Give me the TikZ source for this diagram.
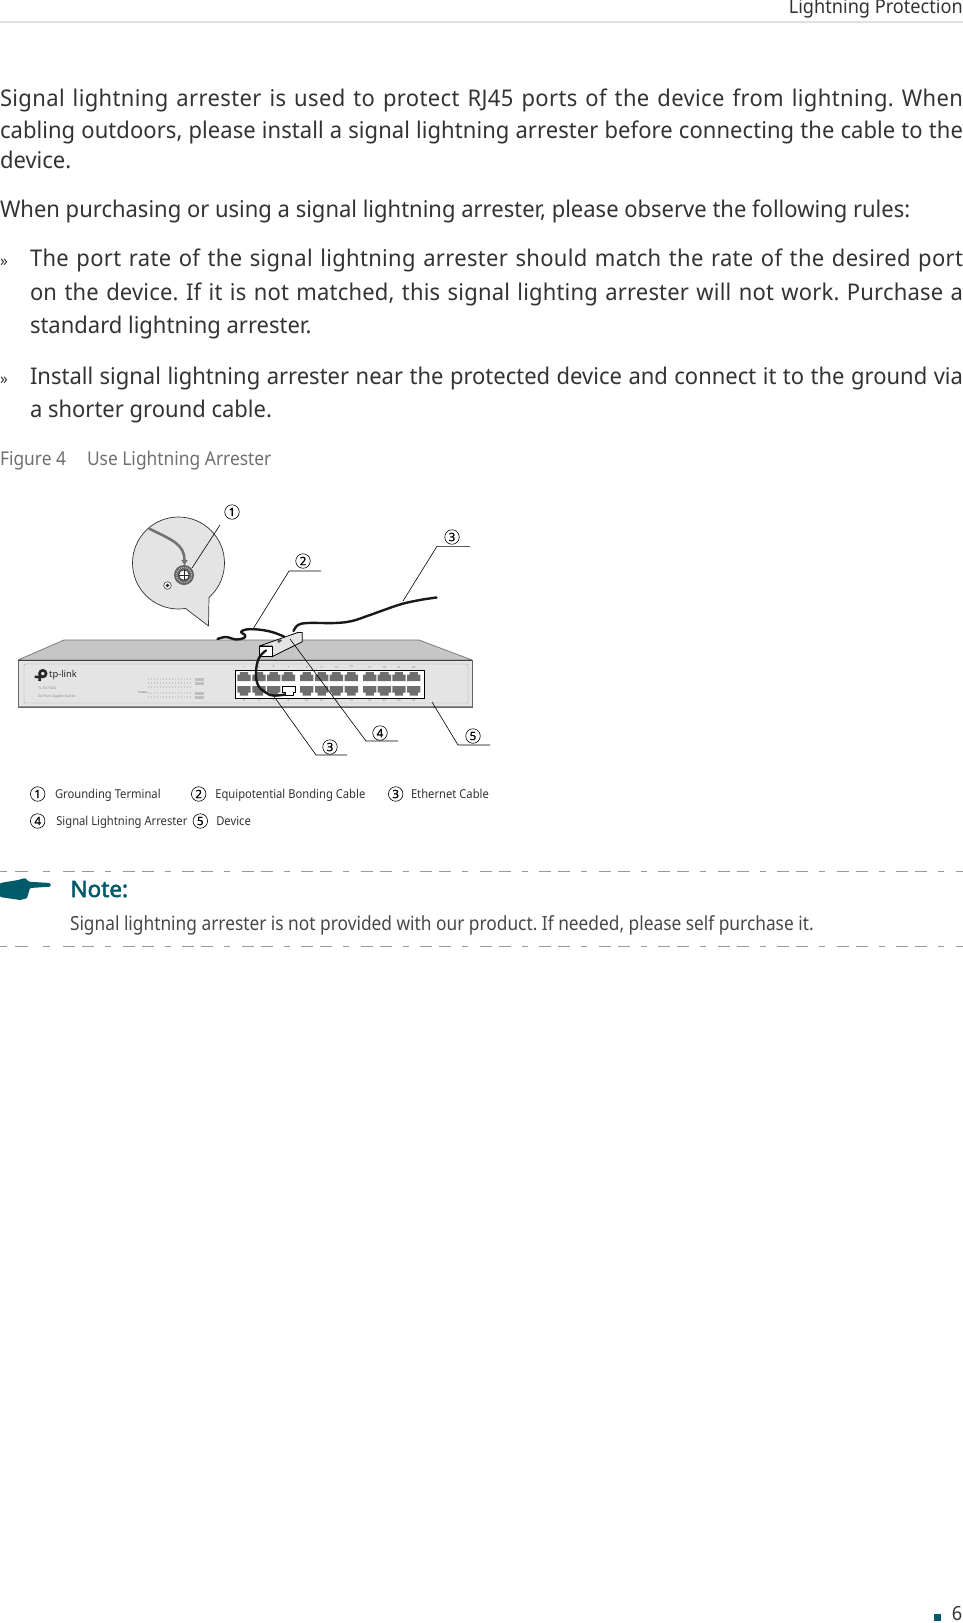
\documentclass[tikz,border=0pt]{standalone}
\usepackage{fontspec}
\usetikzlibrary{arrows.meta}
\setmainfont{Noto Sans}
\newfontfamily\bodyf[FakeStretch=0.956]{Noto Sans}
\newfontfamily\hdrf[FakeStretch=0.93]{Noto Sans}
\newfontfamily\capf[FakeStretch=0.915]{Noto Sans}
\newfontfamily\legf[FakeStretch=0.912]{Noto Sans}
\newfontfamily\notef[FakeStretch=0.888]{Noto Sans}
\newfontfamily\notebf[FakeBold=2.2,FakeStretch=1.0]{Noto Sans}
\newfontfamily\numf[FakeBold=1]{Noto Sans}
\frenchspacing
\definecolor{bodyc}{HTML}{333333}
\definecolor{capc}{HTML}{707070}
\definecolor{notec}{HTML}{484848}
\definecolor{teal}{HTML}{005A68}
\definecolor{dashc}{HTML}{999999}
\definecolor{topc}{HTML}{C6C6C6}
\definecolor{frontc}{HTML}{E4E4E4}
\definecolor{portc}{HTML}{6E6E6E}
\newcommand{\jl}[6]{\node[txt,text=#6] (#1) at (#2,#3) {\hbox to #4pt{#5}};}
\newcommand{\bodysize}{\fontsize{23}{26}\bodyf}
\tikzset{
 txt/.style={anchor=base west,inner sep=0pt,outer sep=0pt},
 numc/.style={circle,draw=black,line width=0.6pt,minimum size=14.5pt,inner sep=0pt,font=\fontsize{11.5}{12}\numf},
 lead/.style={draw=black,line width=0.6pt},
 leg/.style={txt,text=bodyc,font=\fontsize{12.3}{14}\legf},
 cable/.style={draw=black!90,line width=2.4pt,line cap=round,line join=round},
 dashl/.style={draw=dashc,line width=1.5pt},
 dashp/.style={dashl,dash pattern=on 12pt off 7pt on 12pt off 11pt on 6pt off 11.5pt},
 tiny/.style={text=black!55,inner sep=0pt,font=\fontsize{2.8}{3}\selectfont}
}
\begin{document}
\begin{tikzpicture}[x=1pt,y=-1pt]
\useasboundingbox (0,0) rectangle (963,1623);
\fill[white] (0,0) rectangle (963,1623);
% header
\node[anchor=base east,inner sep=0pt,text=bodyc,font=\fontsize{19.5}{24}\hdrf] (hdr) at (963,13) {Lightning Protection};
\draw[draw=black!12,line width=1.2pt] (0,22) -- (963,22);
% body
\begingroup\bodysize
\jl{a1}{0}{106.7}{963}{\addfontfeature{LetterSpace=1.6}Signal lightning arrester is used to protect RJ45 ports of the device from lightning. When}{bodyc}
\jl{a2}{0}{138.3}{963}{\addfontfeature{LetterSpace=0.3}cabling outdoors, please install a signal lightning arrester before connecting the cable to the}{bodyc}
\node[txt,text=bodyc] (a3) at (0,168.3) {device.};
\node[txt,text=bodyc] (b1) at (0,217) {When purchasing or using a signal lightning arrester, please observe the following rules:};
\node[txt,text=bodyc,font=\fontsize{16}{18}\bodyf] (m1) at (0,266.7) {»};
\jl{c1}{30}{266.7}{933}{\addfontfeature{LetterSpace=1.4}The port rate of the signal lightning arrester should match the rate of the desired port}{bodyc}
\jl{c2}{30}{300}{933}{\addfontfeature{LetterSpace=0.8}on the device. If it is not matched, this signal lighting arrester will not work. Purchase a}{bodyc}
\node[txt,text=bodyc] (c3) at (30,333) {standard lightning arrester.};
\node[txt,text=bodyc,font=\fontsize{16}{18}\bodyf] (m2) at (0,384) {»};
\jl{d1}{30}{384}{933}{Install signal lightning arrester near the protected device and connect it to the ground via}{bodyc}
\node[txt,text=bodyc] (d2) at (30,417) {a shorter ground cable.};
\endgroup
\node[txt,text=capc,font=\fontsize{19}{22}\capf] (fig) at (0,465) {Figure 4\hspace{21pt}Use Lightning Arrester};
% switch
\draw[fill=topc,draw=black!55,line width=0.7pt,line join=round] (64,640) -- (419,640) -- (472,660) -- (18,660) -- cycle;
\draw[fill=frontc,draw=black!60,line width=0.9pt] (18,660) rectangle (472,707);
\draw[draw=black!75,line width=1pt] (18,660.5) -- (472,660.5);
\draw[draw=black!45,line width=1.2pt] (18,706.5) -- (472,706.5);
\draw[draw=black!35,line width=0.4pt,rounded corners=1pt] (24,664) rectangle (468,703);
% logo
\draw[draw=black!85,line width=2.6pt] (42.8,673.6) circle (3.3pt);
\draw[draw=black!85,line width=2.6pt] (40.2,674.3) -- (39.5,681) (34.5,676.9) -- (39.5,676.9);
\node[anchor=west,inner sep=0pt,text=black!85,font=\fontsize{9.3}{11}\selectfont] (logo) at (49,674.8) {tp-link};
\node[anchor=west,inner sep=0pt,text=black!45,font=\fontsize{3.6}{4}\selectfont] (model) at (38,688.3) {TL-SG1024};
\node[anchor=west,inner sep=0pt,text=black!45,font=\fontsize{3.6}{4}\selectfont] (desc) at (38,696.8) {24-Port Gigabit Switch};
\node[anchor=west,inner sep=0pt,text=black!60,font=\fontsize{3}{4}\selectfont] (power) at (138,692.3) {Power};
\foreach \y in {679,683,687,693,697} {\draw[draw=black!22,line width=1.2pt,dash pattern=on 1.3pt off 1.7pt] (148,\y) -- (192,\y);}
\foreach \y in {679,683,693,697} {\fill[black!25] (195,\y-1.5) rectangle (204,\y+1.5);}
% port panel
\draw[fill=white,draw=black,line width=0.9pt] (235,670) rectangle (424,698);
\foreach \x in {244,259,273.7,288.3,306.7,321.7,336.3,351.3,369.7,384.3,399,413.7} {
 \fill[portc] (\x-6.7,681) -- (\x-6.7,674.5) -- (\x-4.2,674.5) -- (\x-4.2,672) -- (\x+4.2,672) -- (\x+4.2,674.5) -- (\x+6.7,674.5) -- (\x+6.7,681) -- cycle;
}
\foreach \x in {244,259,273.7,306.7,321.7,336.3,351.3,369.7,384.3,399,413.7} {
 \fill[portc] (\x-6.7,686) -- (\x-6.7,692.5) -- (\x-4.2,692.5) -- (\x-4.2,695.5) -- (\x+4.2,695.5) -- (\x+4.2,692.5) -- (\x+6.7,692.5) -- (\x+6.7,686) -- cycle;
}
\draw[fill=white,draw=black,line width=1pt,line join=round] (282.6,686) -- (282.6,692.5) -- (285,692.5) -- (285,695.8) -- (293.3,695.8) -- (293.3,692.5) -- (295.7,692.5) -- (295.7,686) -- cycle;
\foreach \x/\n/\m [count=\i] in {244/1/2,259/3/4,273.7/5/6,288.3/7/8,306.7/9/10,321.7/11/12,336.3/13/14,351.3/15/16,369.7/17/18,384.3/19/20,399/21/22,413.7/23/24}{
 \node[tiny] (pt\i) at (\x,667) {\n};
 \node[tiny] (pb\i) at (\x,700.5) {\m};
}
% callout
\draw[fill=frontc,draw=black!80,line width=0.7pt] (178.5,563) circle (46pt);
\fill[frontc] (209,597) -- (208.5,626) -- (185,608) -- (178,590) -- cycle;
\draw[draw=black!80,line width=0.7pt,line join=round] (209,597) -- (208.5,626) -- (185,608);
\draw[draw=black!55,line width=2.6pt,-{Latex[length=6pt,width=7pt]}] (149,528.5) .. controls (172,540) and (184.5,544) .. (184.5,566);
\fill[black!62] (184,575) circle (10pt);
\draw[draw=white!70!black,line width=1.6pt,dash pattern=on 0.9pt off 1.1pt] (184,575) circle (7.6pt);
\draw[fill=white,draw=black!85,line width=0.6pt] (184,575) circle (5.2pt);
\draw[draw=black!85,line width=0.6pt] (184,569.8) -- (184,580.2) (178.8,575) -- (189.2,575);
\draw[fill=white,draw=black!85,line width=0.5pt] (167.5,585.5) circle (3.8pt);
\fill[black!85] (167.5,585.5) circle (1.9pt);
% cables and arrester
\draw[cable] plot[smooth,tension=0.6] coordinates {(217.5,639) (226,637) (236,639.5) (244,638) (245,635) (241,632) (246,629.5) (258,629.5) (272,632) (284,636.5)};
\draw[cable] plot[smooth,tension=0.6] coordinates {(293.5,631) (298,625) (308,623) (335,623) (352,621) (370,615) (400,604.5) (420,600) (436.5,597.5)};
\draw[fill=frontc,draw=black,line width=0.8pt,line join=round] (259.5,646) -- (297.7,632.5) -- (302.3,632.5) -- (302.3,641.7) -- (272,656.7) -- (272,646) -- cycle;
\draw[fill=white,draw=black,line width=1pt] (259.5,646) rectangle (272,656.7);
\fill[black!65] (277,641) -- (280,639) -- (282,640.5) -- (279,643) -- cycle;
\draw[cable] plot[smooth,tension=0.7] coordinates {(266,650.5) (259,658) (256,672) (258,685) (265,692) (273,695.5) (285,694.5)};
% leaders
\node[numc] (n1) at (232,512) {1};
\node[numc] (n2) at (303,561) {2};
\node[numc] (n3) at (452,537) {3};
\node[numc] (n3b) at (330,747) {3};
\node[numc] (n4) at (380,733) {4};
\node[numc] (n5) at (473,736) {5};
\coordinate (l1a) at (220,525); \coordinate (l1b) at (192,568);
\coordinate (l2a) at (321,571); \coordinate (l2b) at (289,571); \coordinate (l2c) at (253,629);
\coordinate (l3a) at (470,546.3); \coordinate (l3b) at (437,546.3); \coordinate (l3c) at (403,601);
\coordinate (l6a) at (347,755); \coordinate (l6b) at (316,755); \coordinate (l6c) at (273,695);
\coordinate (l4a) at (398,741); \coordinate (l4b) at (366,741); \coordinate (l4c) at (290,639);
\coordinate (l5a) at (490,745); \coordinate (l5b) at (458,745); \coordinate (l5c) at (432,702);
\draw[lead] (l1a) -- (l1b);
\draw[lead] (l2a) -- (l2b) -- (l2c);
\draw[lead] (l3a) -- (l3b) -- (l3c);
\draw[lead] (l6a) -- (l6b) -- (l6c);
\draw[lead] (l4a) -- (l4b) -- (l4c);
\draw[lead] (l5a) -- (l5b) -- (l5c);
% legend
\node[numc] (k1) at (37.7,794) {1};
\node[leg] (t1) at (55,798) {Grounding Terminal};
\node[numc] (k2) at (198.7,794) {2};
\node[leg] (t2) at (215.3,798) {Equipotential Bonding Cable};
\node[numc] (k3) at (395.7,794) {3};
\node[leg] (t3) at (411,798) {Ethernet Cable};
\node[numc] (k4) at (37.7,821) {4};
\node[leg] (t4) at (56.3,825) {Signal Lightning Arrester};
\node[numc] (k5) at (200.3,821) {5};
\node[leg] (t5) at (216.3,825) {Device};
% note
\foreach \y in {871.7,946.7} {
 \draw[dashl] (0,\y) -- (7,\y) (15,\y) -- (28,\y) (43,\y) -- (50,\y);
 \draw[dashp] (63,\y) -- (963,\y);
}
\fill[teal,rounded corners=1pt] (0,883) -- (18,880) -- (25,878) -- (29,881.7) -- (50,883) -- (51,885) -- (50,886.7) -- (30,888) -- (27,898.3) -- (20,900) -- (0,897) -- cycle;
\node[txt,text=teal,font=\fontsize{22.5}{24}\notebf] (note) at (70.5,897) {Note:};
\node[txt,text=notec,font=\fontsize{19.5}{22}\notef] (notet) at (70,930) {Signal lightning arrester is not provided with our product. If needed, please self purchase it.};
% footer
\fill[teal] (934,1614) rectangle (940.7,1620.7);
\node[anchor=base east,inner sep=0pt,text=bodyc,font=\fontsize{19.5}{22}\hdrf] (pg) at (962.5,1620.8) {6};
\end{tikzpicture}
\end{document}
